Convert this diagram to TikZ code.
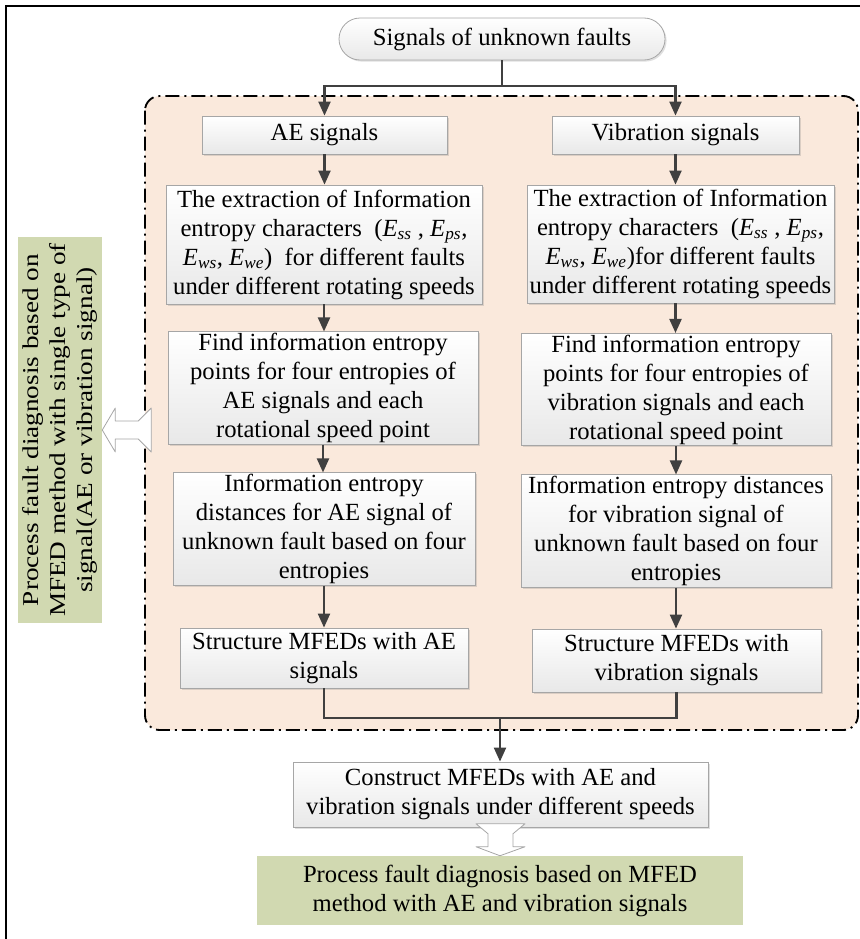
\documentclass[tikz,border=0pt]{standalone}
\usepackage{fontspec}
\setmainfont{Liberation Serif}
\newfontfamily\widefont{Liberation Serif}[FakeStretch=1.2]
\usetikzlibrary{arrows.meta,shadows}
\definecolor{peach}{RGB}{250,233,220}
\definecolor{sage}{RGB}{209,217,177}
\definecolor{darkline}{RGB}{64,64,64}
\newcommand{\Ent}[1]{\textit{E}\textsubscript{\textit{#1}}}

\tikzset{
  stepbox/.style={draw=gray!70, line width=0.6pt, top color=white, bottom color=gray!18,
    align=center, inner sep=1pt, font=\fontsize{18.5}{21.75}\selectfont,
    drop shadow={shadow xshift=1.2pt, shadow yshift=-1.2pt, opacity=0.25}},
  greenbox/.style={fill=sage, align=center, inner sep=1pt},
  flow/.style={draw=darkline, line width=1.6pt, -{Triangle[length=10.5pt,width=9pt]}},
  link/.style={draw=darkline, line width=1.6pt},
  fatarrow/.style={draw=gray!70, fill=white, line width=0.6pt, line join=round},
  region/.style={draw=black, fill=peach, line width=1.4pt, rounded corners=11pt,
    dash pattern=on 10.5pt off 3.75pt on 1.5pt off 3.75pt},
}

\begin{document}
\begin{tikzpicture}[x=0.75pt,y=0.75pt,yscale=-1,xscale=1]
\useasboundingbox (0,0) rectangle (860,939);

%Straight Lines: frame
\draw [line width=1.2pt] (6,939) -- (6,6) -- (860,6) ;
%Shape: dash-dot region
\draw [region] (145,96) rectangle (858,730) ;

% Text Node
\node (top) at (502,39) [stepbox, rounded corners=15.75pt, minimum width=244.5pt, minimum height=31.5pt] {Signals of unknown faults};
% Text Node
\node (ae) at (324.5,135) [stepbox, minimum width=183.75pt, minimum height=28.5pt] {AE signals};
% Text Node
\node (vib) at (675.5,135) [stepbox, minimum width=185.25pt, minimum height=28.5pt] {Vibration signals};
% Text Node
\node (aeext) at (324,244.5) [stepbox, minimum width=237pt, minimum height=89.25pt] {The extraction of Information\\entropy characters~ (\Ent{ss} , \Ent{ps},\\\Ent{ws}, \Ent{we})~ for different faults\\under different rotating speeds};
% Text Node
\node (vibext) at (680.5,244) [stepbox, minimum width=230.25pt, minimum height=88.5pt] {The extraction of Information\\entropy characters~ (\Ent{ss} , \Ent{ps},\\\Ent{ws}, \Ent{we})for different faults\\under different rotating speeds};
% Text Node
\node (aepts) at (323,388) [stepbox, minimum width=232.5pt, minimum height=84pt] {Find information entropy\\points for four entropies of\\AE signals and each\\rotational speed point};
% Text Node
\node (vibpts) at (676,389.5) [stepbox, minimum width=232.5pt, minimum height=81.75pt] {Find information entropy\\points for four entropies of\\vibration signals and each\\rotational speed point};
% Text Node
\node (aedist) at (324,529) [stepbox, minimum width=226.5pt, minimum height=81pt] {Information entropy\\distances for AE signal of\\unknown fault based on four\\entropies};
% Text Node
\node (vibdist) at (676,531) [stepbox, minimum width=232.5pt, minimum height=84pt] {Information entropy distances\\for vibration signal of\\unknown fault based on four\\entropies};
% Text Node
\node (aemfed) at (324,658) [stepbox, minimum width=216pt, minimum height=45pt] {Structure MFEDs with AE\\signals};
% Text Node
\node (vibmfed) at (676.5,660.5) [stepbox, minimum width=216.75pt, minimum height=47.25pt] {Structure MFEDs with\\vibration signals};
% Text Node
\node (build) at (500.5,794.5) [stepbox, minimum width=311.25pt, minimum height=48.75pt] {Construct MFEDs with AE and\\vibration signals under different speeds};
% Text Node
\node (final) at (500,890.5) [greenbox, minimum width=364.5pt, minimum height=51.75pt, font=\fontsize{18.5}{21.75}\selectfont] {Process fault diagnosis based on MFED\\method with AE and vibration signals};
% Text Node
\node (side) at (60,430) [greenbox, rotate=90, minimum width=289.5pt, minimum height=63pt, font=\widefont\fontsize{17}{20.25}\selectfont] {Process fault diagnosis based on\\MFED method with single type of\\signal(AE or vibration signal)};

%Straight Lines: fork
\draw [link] (top.south) -- ++(0,26) coordinate (fork) ;
\draw [flow] (fork) -| (ae.north) ;
\draw [flow] (fork) -| (vib.north) ;
\draw [flow] (ae.south) -- (ae.south |- aeext.north) ;
\draw [flow] (vib.south) -- (vib.south |- vibext.north) ;
\draw [flow] (aeext.south) -- (aeext.south |- aepts.north) ;
\draw [flow] (vib.south |- vibext.south) -- (vib.south |- vibpts.north) ;
\draw [flow] (aepts.south) -- (aepts.south |- aedist.north) ;
\draw [flow] (vibpts.south) -- (vibpts.south |- vibdist.north) ;
\draw [flow] (aedist.south) -- (aedist.south |- aemfed.north) ;
\draw [flow] (vibdist.south) -- (vibdist.south |- vibmfed.north) ;
%Straight Lines: join
\draw [link] (aemfed.south) |- (500,718) coordinate (join) -| (vibmfed.south) ;
\draw [flow] (join) -- (join |- build.north) ;

%Shape: fat arrow down
\draw [fatarrow, shift={(final.north)}] (-24,-32) -- (25,-32) -- (13,-22) -- (13,-9) -- (25,-9) -- (0,0) -- (-24,-9) -- (-12,-9) -- (-12,-22) -- cycle ;
%Shape: fat arrow left
\draw [fatarrow, shift={(side.south)}] (0,0) -- (13,-22) -- (13,-9) -- (36,-9) -- (49,-22) -- (49,22) -- (36,9) -- (13,9) -- (13,22) -- cycle ;

\end{tikzpicture}
\end{document}
